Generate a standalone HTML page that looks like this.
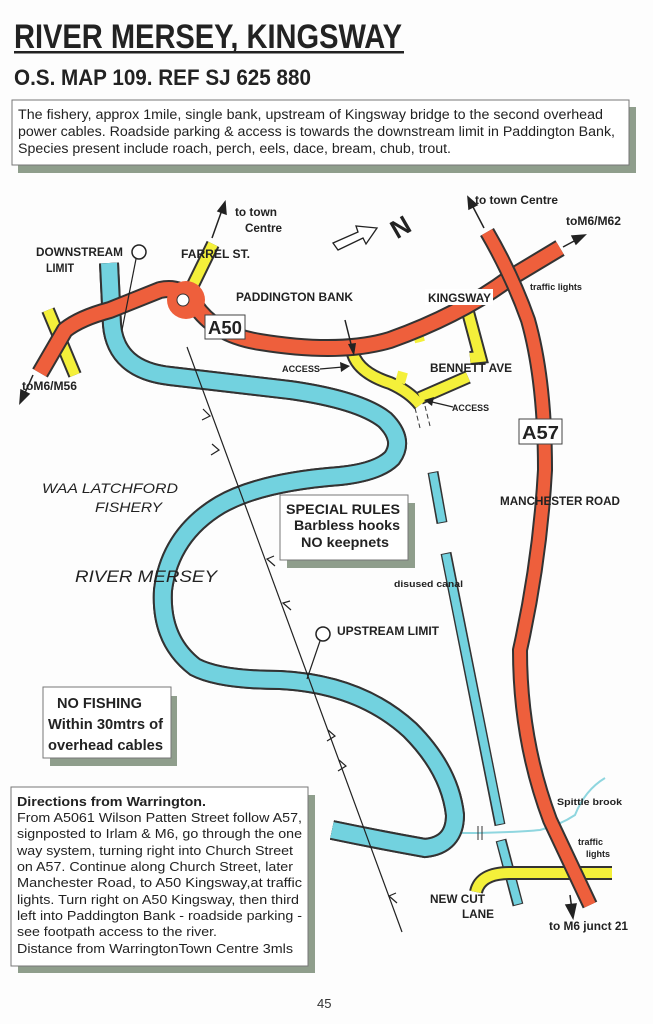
<!DOCTYPE html>
<html><head><meta charset="utf-8"><style>
html,body{margin:0;padding:0;background:#fff}
svg{display:block}
text{font-family:"Liberation Sans",Arial,sans-serif}
</style></head><body>
<svg width="653" height="1024" viewBox="0 0 653 1024" xmlns="http://www.w3.org/2000/svg">
<rect width="653" height="1024" fill="#fdfdfd"/>
<!-- title -->
<text x="14" y="48" font-size="34" font-weight="bold" fill="#222" textLength="388" lengthAdjust="spacingAndGlyphs">RIVER MERSEY, KINGSWAY</text>
<rect x="14" y="51" width="390" height="2.5" fill="#222"/>
<text x="14" y="85" font-size="22" font-weight="bold" fill="#222" textLength="297" lengthAdjust="spacingAndGlyphs">O.S. MAP 109. REF SJ  625 880</text>
<!-- info box -->
<rect x="18" y="107" width="618" height="66" fill="#8f9e8c"/>
<rect x="12" y="100" width="617" height="65" fill="#fff" stroke="#777" stroke-width="1"/>
<text font-size="13.5" fill="#222">
<tspan x="18" y="119" textLength="585" lengthAdjust="spacingAndGlyphs">The fishery, approx 1mile, single bank, upstream of Kingsway bridge to the second overhead</tspan>
<tspan x="18" y="136" textLength="597" lengthAdjust="spacingAndGlyphs">power cables. Roadside parking &amp; access is towards the downstream limit in Paddington Bank,</tspan>
<tspan x="18" y="153" textLength="433" lengthAdjust="spacingAndGlyphs">Species present include roach, perch, eels, dace, bream, chub, trout.</tspan>
</text>

<!-- canal -->
<g stroke="#333" stroke-width="11" fill="none" stroke-linecap="butt">
<path d="M433 472 L442 523"/><path d="M446 553 L500 825"/><path d="M501 840 L518 905"/>
</g>
<g stroke="#72d2df" stroke-width="8" fill="none">
<path d="M433 473 L442 522"/><path d="M446 554 L500 824"/><path d="M501 841 L518 904"/>
</g>
<!-- spittle brook -->
<path d="M462 833 L478 833 Q520 832 540 830 Q560 825 575 815 Q585 790 605 778" fill="none" stroke="#8fd6df" stroke-width="2"/>
<path d="M478 826 L478 840 M482 826 L482 840" stroke="#333" stroke-width="1"/>

<!-- river -->
<path id="river" d="M109 263 L112 325 Q116 370 170 376 L290 390 Q360 400 385 420 Q405 440 392 458 Q378 472 340 476 Q260 482 220 505 Q170 535 163 590 Q160 640 195 667 Q220 680 280 680 Q360 684 410 730 Q450 770 455 815 Q455 845 425 848 Q380 840 332 830" fill="none" stroke="#333" stroke-width="20"/>
<use href="#river" stroke="#72d2df" stroke-width="16"/>
<path d="M109 263 L112 325 Q116 370 170 376 L290 390 Q360 400 385 420 Q405 440 392 458 Q378 472 340 476 Q260 482 220 505 Q170 535 163 590 Q160 640 195 667 Q220 680 280 680 Q360 684 410 730 Q450 770 455 815 Q455 845 425 848 Q380 840 332 830" fill="none" stroke="#72d2df" stroke-width="16"/>

<!-- yellow roads -->
<g stroke="#333" stroke-width="14" fill="none">
<path d="M48 310 L75 375"/>
<path d="M193 285 L213 244"/>
<path d="M352 350 Q356 372 390 383 Q410 392 420 405"/>
<path d="M468 312 L480 357 L470 358"/>
<path d="M468 377 L420 398"/>
<path d="M476 892 Q480 873 510 873 L612 873"/>
</g>
<g stroke="#f4f03a" stroke-width="10" fill="none">
<path d="M48 310 L75 375"/>
<path d="M193 285 L213 244"/>
<path d="M352 350 Q356 372 390 383 Q410 392 420 405"/>
<path d="M468 312 L480 357 L470 358"/>
<path d="M468 377 L420 398"/>
<path d="M476 892 Q480 873 510 873 L612 873"/>
<path d="M400 383 L403 372 M417 330 L420 342"/>
</g>
<path d="M417 330 L420 342" stroke="#f4f03a" stroke-width="5"/>
<path d="M415 408 L420 428 M425 406 L430 426" stroke="#333" stroke-width="1" stroke-dasharray="5 3"/>

<!-- A50 -->
<path id="a50" d="M40 373 L65 330 Q80 318 110 310 L160 290 Q183 285 195 305 Q215 335 260 342 Q340 355 390 340 Q460 315 510 278 L560 248" fill="none" stroke="#333" stroke-width="18" stroke-linejoin="round"/>
<path d="M40 373 L65 330 Q80 318 110 310 L160 290 Q183 285 195 305 Q215 335 260 342 Q340 355 390 340 Q460 315 510 278 L560 248" fill="none" stroke="#ee5f3c" stroke-width="14" stroke-linejoin="round"/>
<circle cx="186" cy="300" r="19" fill="#ee5f3c"/>
<circle cx="183" cy="300" r="6" fill="#fff" stroke="#333" stroke-width="1"/>
<!-- A57 -->
<path d="M487 232 Q512 275 528 320 Q545 380 545 470 Q540 560 520 650 Q520 740 550 820 L590 905" fill="none" stroke="#333" stroke-width="16"/>
<path d="M487 232 Q512 275 528 320 Q545 380 545 470 Q540 560 520 650 Q520 740 550 820 L590 905" fill="none" stroke="#ee5f3c" stroke-width="12"/>

<!-- arrows -->
<g stroke="#222" stroke-width="1.5" fill="#222">
<path d="M33 375 L24 395" /><path d="M20 403 L21 390 L29 394 Z"/>
<path d="M212 238 L222 210" /><path d="M225 202 L226 214 L218 211 Z"/>
<path d="M484 228 L472 205"/><path d="M468 197 L477 205 L469 209 Z"/>
<path d="M563 247 L576 240"/><path d="M585 235 L576 244 L572 236 Z"/>
<path d="M570 895 L572 910"/><path d="M573 918 L566 905 L576 904 Z"/>
<path d="M335 263 L370 245" stroke="none"/>
</g>
<!-- N arrow -->
<path d="M333 243 L358 232 L356 226 L377 228 L366 244 L363 238 L338 250 Z" fill="#fff" stroke="#222" stroke-width="1.3"/>
<text x="390" y="236" font-size="26" font-weight="bold" fill="#222" transform="rotate(-30 400 225)">N</text>

<!-- power line -->
<path d="M187 347 L402 932" stroke="#222" stroke-width="1.2"/>
<g stroke="#222" stroke-width="1.2" fill="none">
<path d="M203 409 L210 416 L202 420"/><path d="M212 444 L219 450 L211 455"/>
<path d="M274 556 L267 559 L275 566"/><path d="M290 601 L283 603 L291 610"/>
<path d="M328 730 L335 736 L327 741"/><path d="M339 760 L346 766 L338 771"/>
<path d="M396 893 L389 896 L397 903"/>
</g>

<!-- limits -->
<circle cx="139" cy="252" r="7" fill="#fff" stroke="#222" stroke-width="1.5"/>
<path d="M136 259 L122 330" stroke="#222" stroke-width="1.2"/>
<circle cx="323" cy="634" r="7" fill="#fff" stroke="#222" stroke-width="1.5"/>
<path d="M320 641 L307 679" stroke="#222" stroke-width="1.2"/>
<path d="M345 320 L352 348" stroke="#222" stroke-width="1.5"/><path d="M354 356 L348 344 L356 343 Z" fill="#222"/>
<path d="M320 369 L343 367" stroke="#222" stroke-width="1.3"/><path d="M350 366 L340 362 L341 372 Z" fill="#222"/>
<path d="M453 407 L432 402" stroke="#222" stroke-width="1.3"/><path d="M424 400 L434 397 L432 406 Z" fill="#222"/>

<!-- labels -->
<g font-weight="bold" fill="#222" font-size="12">
<text x="36" y="256" textLength="87" lengthAdjust="spacingAndGlyphs">DOWNSTREAM</text>
<text x="46" y="272" textLength="28" lengthAdjust="spacingAndGlyphs">LIMIT</text>
<text x="181" y="258" textLength="69" lengthAdjust="spacingAndGlyphs">FARREL ST.</text>
<text x="235" y="216" textLength="42" lengthAdjust="spacingAndGlyphs">to town</text>
<text x="245" y="232" textLength="37" lengthAdjust="spacingAndGlyphs">Centre</text>
<text x="475" y="204" textLength="83" lengthAdjust="spacingAndGlyphs">to town Centre</text>
<text x="566" y="225" textLength="55" lengthAdjust="spacingAndGlyphs">toM6/M62</text>
<text x="236" y="301" textLength="117" lengthAdjust="spacingAndGlyphs">PADDINGTON BANK</text>
<rect x="425" y="289" width="68" height="16" fill="#fff"/>
<text x="428" y="302" textLength="63" lengthAdjust="spacingAndGlyphs">KINGSWAY</text>
<text x="430" y="372" textLength="82" lengthAdjust="spacingAndGlyphs">BENNETT AVE</text>
<text x="22" y="390" textLength="55" lengthAdjust="spacingAndGlyphs">toM6/M56</text>
<text x="500" y="505" textLength="120" lengthAdjust="spacingAndGlyphs">MANCHESTER ROAD</text>
<text x="337" y="635" textLength="102" lengthAdjust="spacingAndGlyphs">UPSTREAM  LIMIT</text>
<text x="430" y="903" textLength="55" lengthAdjust="spacingAndGlyphs">NEW CUT</text>
<text x="462" y="918" textLength="32" lengthAdjust="spacingAndGlyphs">LANE</text>
<text x="549" y="930" textLength="79" lengthAdjust="spacingAndGlyphs">to M6 junct 21</text>
<g font-size="9">
<text x="282" y="372" textLength="38" lengthAdjust="spacingAndGlyphs">ACCESS</text>
<text x="452" y="411" textLength="37" lengthAdjust="spacingAndGlyphs">ACCESS</text>
<text x="530" y="290" textLength="52" lengthAdjust="spacingAndGlyphs">traffic lights</text>
<text x="394" y="587" textLength="69" lengthAdjust="spacingAndGlyphs">disused canal</text>
<text x="557" y="805" textLength="65" lengthAdjust="spacingAndGlyphs">Spittle brook</text>
<text x="578" y="845" textLength="25" lengthAdjust="spacingAndGlyphs">traffic</text>
<text x="586" y="857" textLength="24" lengthAdjust="spacingAndGlyphs">lights</text>
</g>
</g>
<!-- A50 / A57 tags -->
<rect x="205" y="315" width="40" height="24" fill="#fff" stroke="#444"/>
<text x="208" y="334" font-size="18" font-weight="bold" fill="#222" textLength="34" lengthAdjust="spacingAndGlyphs">A50</text>
<rect x="519" y="419" width="43" height="25" fill="#fff" stroke="#444"/>
<text x="522" y="439" font-size="18" font-weight="bold" fill="#222" textLength="37" lengthAdjust="spacingAndGlyphs">A57</text>

<!-- script labels -->
<g font-family="'Liberation Serif',serif" font-style="italic" fill="#222">
<text x="42" y="493" font-size="14" textLength="136" lengthAdjust="spacingAndGlyphs">WAA LATCHFORD</text>
<text x="95" y="512" font-size="14" textLength="67" lengthAdjust="spacingAndGlyphs">FISHERY</text>
<text x="75" y="582" font-size="17" textLength="142" lengthAdjust="spacingAndGlyphs">RIVER MERSEY</text>
</g>

<!-- special rules box -->
<rect x="287" y="503" width="128" height="65" fill="#8f9e8c"/>
<rect x="280" y="495" width="128" height="65" fill="#fff" stroke="#777"/>
<g font-weight="bold" fill="#222" font-size="14">
<text x="286" y="514" textLength="114" lengthAdjust="spacingAndGlyphs">SPECIAL RULES</text>
<text x="294" y="530" textLength="106" lengthAdjust="spacingAndGlyphs">Barbless hooks</text>
<text x="301" y="547" textLength="88" lengthAdjust="spacingAndGlyphs">NO keepnets</text>
</g>
<!-- no fishing box -->
<rect x="50" y="696" width="127" height="70" fill="#8f9e8c"/>
<rect x="43" y="687" width="128" height="71" fill="#fff" stroke="#777"/>
<g font-weight="bold" fill="#222" font-size="15">
<text x="57" y="708" textLength="85" lengthAdjust="spacingAndGlyphs">NO FISHING</text>
<text x="48" y="729" textLength="115" lengthAdjust="spacingAndGlyphs">Within 30mtrs of</text>
<text x="48" y="750" textLength="115" lengthAdjust="spacingAndGlyphs">overhead cables</text>
</g>
<!-- directions box -->
<rect x="18" y="795" width="297" height="178" fill="#8f9e8c"/>
<rect x="11" y="787" width="297" height="179" fill="#fff" stroke="#777"/>
<g fill="#222" font-size="13">
<text x="17" y="806" font-weight="bold" textLength="189" lengthAdjust="spacingAndGlyphs">Directions from Warrington.</text>
<text x="17" y="822" textLength="285" lengthAdjust="spacingAndGlyphs">From A5061 Wilson Patten Street follow A57,</text>
<text x="17" y="838" textLength="285" lengthAdjust="spacingAndGlyphs">signposted to Irlam &amp; M6, go through the one</text>
<text x="17" y="855" textLength="276" lengthAdjust="spacingAndGlyphs">way system, turning right into Church Street</text>
<text x="17" y="871" textLength="276" lengthAdjust="spacingAndGlyphs">on A57. Continue along Church Street, later</text>
<text x="17" y="887" textLength="285" lengthAdjust="spacingAndGlyphs">Manchester Road, to A50  Kingsway,at traffic</text>
<text x="17" y="904" textLength="282" lengthAdjust="spacingAndGlyphs">lights. Turn right on A50 Kingsway, then third</text>
<text x="17" y="920" textLength="285" lengthAdjust="spacingAndGlyphs">left into Paddington Bank - roadside parking -</text>
<text x="17" y="936" textLength="200" lengthAdjust="spacingAndGlyphs">see footpath access to the river.</text>
<text x="17" y="953" textLength="276" lengthAdjust="spacingAndGlyphs">Distance from WarringtonTown Centre 3mls</text>
</g>
<text x="317" y="1008" font-size="13" fill="#333">45</text>
</svg>
</body></html>
